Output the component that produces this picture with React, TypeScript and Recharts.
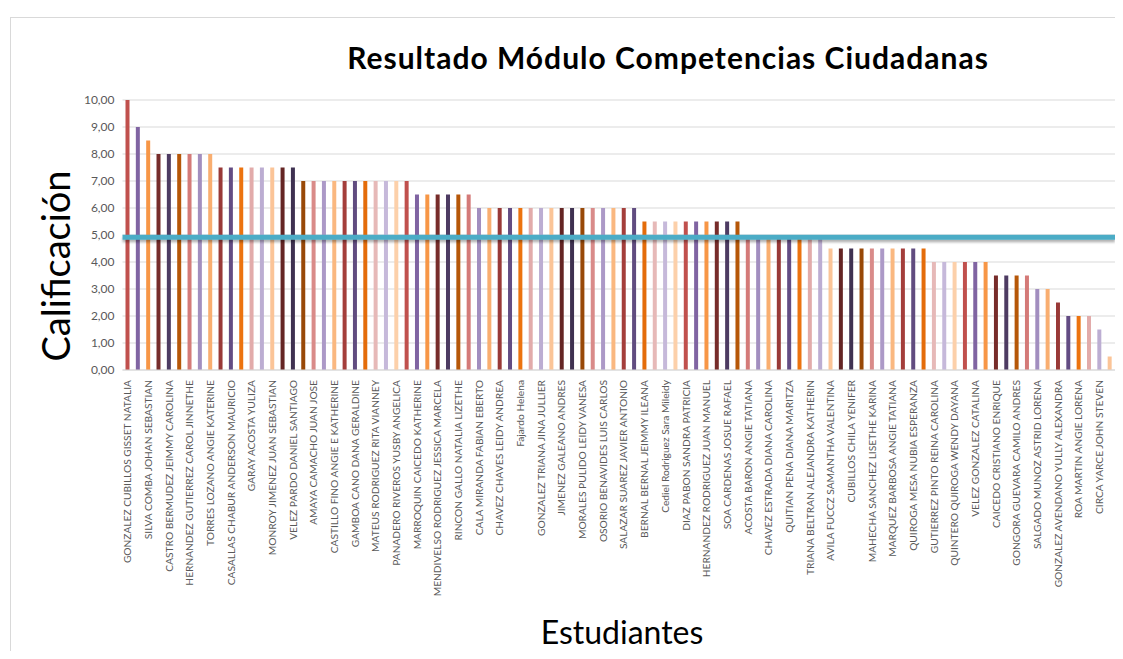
import { BarChart, Bar, Cell, XAxis, YAxis, CartesianGrid, ReferenceLine } from "recharts";

// nombres visibles (Excel solo muestra una etiqueta de cada dos)
const students = [
  "GONZALEZ CUBILLOS GISSET NATALIA", "",
  "SILVA COMBA JOHAN SEBASTIAN", "",
  "CASTRO BERMUDEZ JEIMMY CAROLINA", "",
  "HERNANDEZ GUTIERREZ CAROL JINNETHE", "",
  "TORRES LOZANO ANGIE KATERINE", "",
  "CASALLAS CHABUR ANDERSON MAURICIO", "",
  "GARAY ACOSTA YULIZA", "",
  "MONROY JIMENEZ JUAN SEBASTIAN", "",
  "VELEZ PARDO DANIEL SANTIAGO", "",
  "AMAYA CAMACHO JUAN JOSE", "",
  "CASTILLO FINO ANGIE E KATHERINE", "",
  "GAMBOA CANO DANA GERALDINE", "",
  "MATEUS RODRIGUEZ RITA VIANNEY", "",
  "PANADERO RIVEROS YUSBY ANGELICA", "",
  "MARROQUIN CAICEDO KATHERINE", "",
  "MENDIVELSO RODRIGUEZ JESSICA MARCELA", "",
  "RINCON GALLO NATALIA LIZETHE", "",
  "CALA MIRANDA FABIAN EBERTO", "",
  "CHAVEZ CHAVES LEIDY ANDREA", "",
  "Fajardo Helena", "",
  "GONZALEZ TRIANA JINA JULLIER", "",
  "JIMENEZ GALEANO ANDRES", "",
  "MORALES PULIDO LEIDY VANESA", "",
  "OSORIO BENAVIDES LUIS CARLOS", "",
  "SALAZAR SUAREZ JAVIER ANTONIO", "",
  "BERNAL BERNAL JEIMMY ILEANA", "",
  "Cediel Rodriguez Sara Mileidy", "",
  "DIAZ PABON SANDRA PATRICIA", "",
  "HERNANDEZ RODRIGUEZ JUAN MANUEL", "",
  "SOA CARDENAS JOSUE RAFAEL", "",
  "ACOSTA BARON ANGIE TATIANA", "",
  "CHAVEZ ESTRADA DIANA CAROLINA", "",
  "QUITIAN PENA DIANA MARITZA", "",
  "TRIANA BELTRAN ALEJANDRA KATHERIN", "",
  "AVILA FUCCZ SAMANTHA VALENTINA", "",
  "CUBILLOS CHILA YENIFER", "",
  "MAHECHA SANCHEZ LISETHE KARINA", "",
  "MARQUEZ BARBOSA ANGIE TATIANA", "",
  "QUIROGA MESA NUBIA ESPERANZA", "",
  "GUTIERREZ PINTO REINA CAROLINA", "",
  "QUINTERO QUIROGA WENDY DAYANA", "",
  "VELEZ GONZALEZ CATALINA", "",
  "CAICEDO CRISTIANO ENRIQUE", "",
  "GONGORA GUEVARA CAMILO ANDRES", "",
  "SALGADO MUNOZ ASTRID LORENA", "",
  "GONZALEZ AVENDANO YULLY ALEXANDRA", "",
  "ROA MARTIN ANGIE LORENA", "",
  "CIRCA YARCE JOHN STEVEN", "",
];

const grades = [
  10, 9, 8.5, 8, 8, 8, 8, 8, 8, 7.5,
  7.5, 7.5, 7.5, 7.5, 7.5, 7.5, 7.5, 7, 7, 7,
  7, 7, 7, 7, 7, 7, 7, 7, 6.5, 6.5,
  6.5, 6.5, 6.5, 6.5, 6, 6, 6, 6, 6, 6,
  6, 6, 6, 6, 6, 6, 6, 6, 6, 6,
  5.5, 5.5, 5.5, 5.5, 5.5, 5.5, 5.5, 5.5, 5.5, 5.5,
  5, 5, 5, 5, 5, 5, 5, 5, 4.5, 4.5,
  4.5, 4.5, 4.5, 4.5, 4.5, 4.5, 4.5, 4.5, 4, 4,
  4, 4, 4, 4, 3.5, 3.5, 3.5, 3.5, 3, 3,
  2.5, 2, 2, 2, 1.5, 0.5,
];

const promedio = 4.92;

const yTicks = [0, 1, 2, 3, 4, 5, 6, 7, 8, 9, 10];

// ciclo de colores de Excel (rojo, morado, naranja en distintos tonos)
const palette = [
  "#C0504D", "#8064A2", "#F79646",
  "#772C2A", "#4D3B62", "#B65708",
  "#D47A78", "#A28EBF", "#F9AE70",
  "#993937", "#634C83", "#EC730F",
  "#E2ABAA", "#BCADD2", "#FBC497",
  "#652524", "#3F3151", "#984807",
  "#D98B89", "#AC99C7", "#FAB880",
  "#A43E3B", "#614C80", "#E46C0A",
  "#E6B9B8", "#C6B9DA", "#FCD0AA",
];

const data = grades.map((g, i) => ({ idx: i, nota: g }));

const fmt = (v: number) => v.toFixed(2).replace(".", ",");

function NameTick({ x, y, payload }: any) {
  return (
    <text
      x={x}
      y={y}
      transform={`rotate(-90, ${x}, ${y})`}
      textAnchor="end"
      dy="0.35em"
      dx={-2}
      fontSize={10.2}
      fontFamily="Lato, 'Open Sans', sans-serif"
      fill="#595959"
    >
      {students[payload.value]}
    </text>
  );
}

function AvgLine(props: any) {
  const { x1, y1, x2, y2 } = props;
  return (
    <line x1={x1} y1={y1} x2={x2} y2={y2} stroke="#4BACC6" strokeWidth={5} filter="url(#sombra)" />
  );
}

export default function App() {
  return (
    <div style={{ position: "relative", width: 1107, height: 643, background: "#fff", fontFamily: "Lato, sans-serif" }}>
      <style>{"html, body { overflow: hidden; }"}</style>
      <div
        style={{
          position: "absolute",
          left: 2,
          top: 9,
          width: 1105,
          height: 634,
          borderLeft: "1px solid #D9D9D9",
          borderTop: "1px solid #D9D9D9",
          boxSizing: "border-box",
        }}
      />
      <div
        style={{
          position: "absolute",
          left: 160,
          width: 1000,
          top: 33,
          textAlign: "center",
          fontSize: 30,
          letterSpacing: 1,
          fontWeight: 700,
          color: "#000",
          lineHeight: "32px",
        }}
      >
        Resultado Módulo Competencias Ciudadanas
      </div>
      <div
        style={{
          position: "absolute",
          left: 47 - 150,
          top: 258 - 25,
          width: 300,
          height: 50,
          lineHeight: "50px",
          textAlign: "center",
          fontSize: 38,
          color: "#000",
          transform: "rotate(-90deg)",
        }}
      >
        Calificación
      </div>
      <div
        style={{
          position: "absolute",
          left: 614 - 150,
          top: 624 - 20,
          width: 300,
          height: 40,
          lineHeight: "40px",
          textAlign: "center",
          fontSize: 32,
          color: "#000",
        }}
      >
        Estudiantes
      </div>
      <div style={{ position: "absolute", left: 0, top: 0 }}>
        <BarChart width={1107} height={643} data={data} margin={{ top: 92, right: 0, bottom: 56, left: 0 }}>
          <defs>
            <filter id="sombra" filterUnits="userSpaceOnUse" x="0" y="0" width="1107" height="643">
              <feDropShadow dx="0" dy="2.5" stdDeviation="1.2" floodColor="#000" floodOpacity="0.3" />
            </filter>
          </defs>
          <CartesianGrid vertical={false} stroke="#D9D9D9" />
          <XAxis
            dataKey="idx"
            interval={1}
            height={225}
            tickLine={false}
            axisLine={{ stroke: "#D9D9D9" }}
            tick={<NameTick />}
          />
          <YAxis
            width={114.5}
            domain={[0, 10]}
            ticks={yTicks}
            tickFormatter={fmt}
            axisLine={false}
            tickLine={false}
            tick={{ fontSize: 12, fill: "#595959", fontFamily: "Lato, sans-serif" }}
          />
          <Bar dataKey="nota" barSize={4} isAnimationActive={false}>
            {data.map((d) => (
              <Cell key={d.idx} fill={palette[d.idx % palette.length]} />
            ))}
          </Bar>
          <ReferenceLine y={promedio} shape={<AvgLine />} />
        </BarChart>
      </div>
    </div>
  );
}
